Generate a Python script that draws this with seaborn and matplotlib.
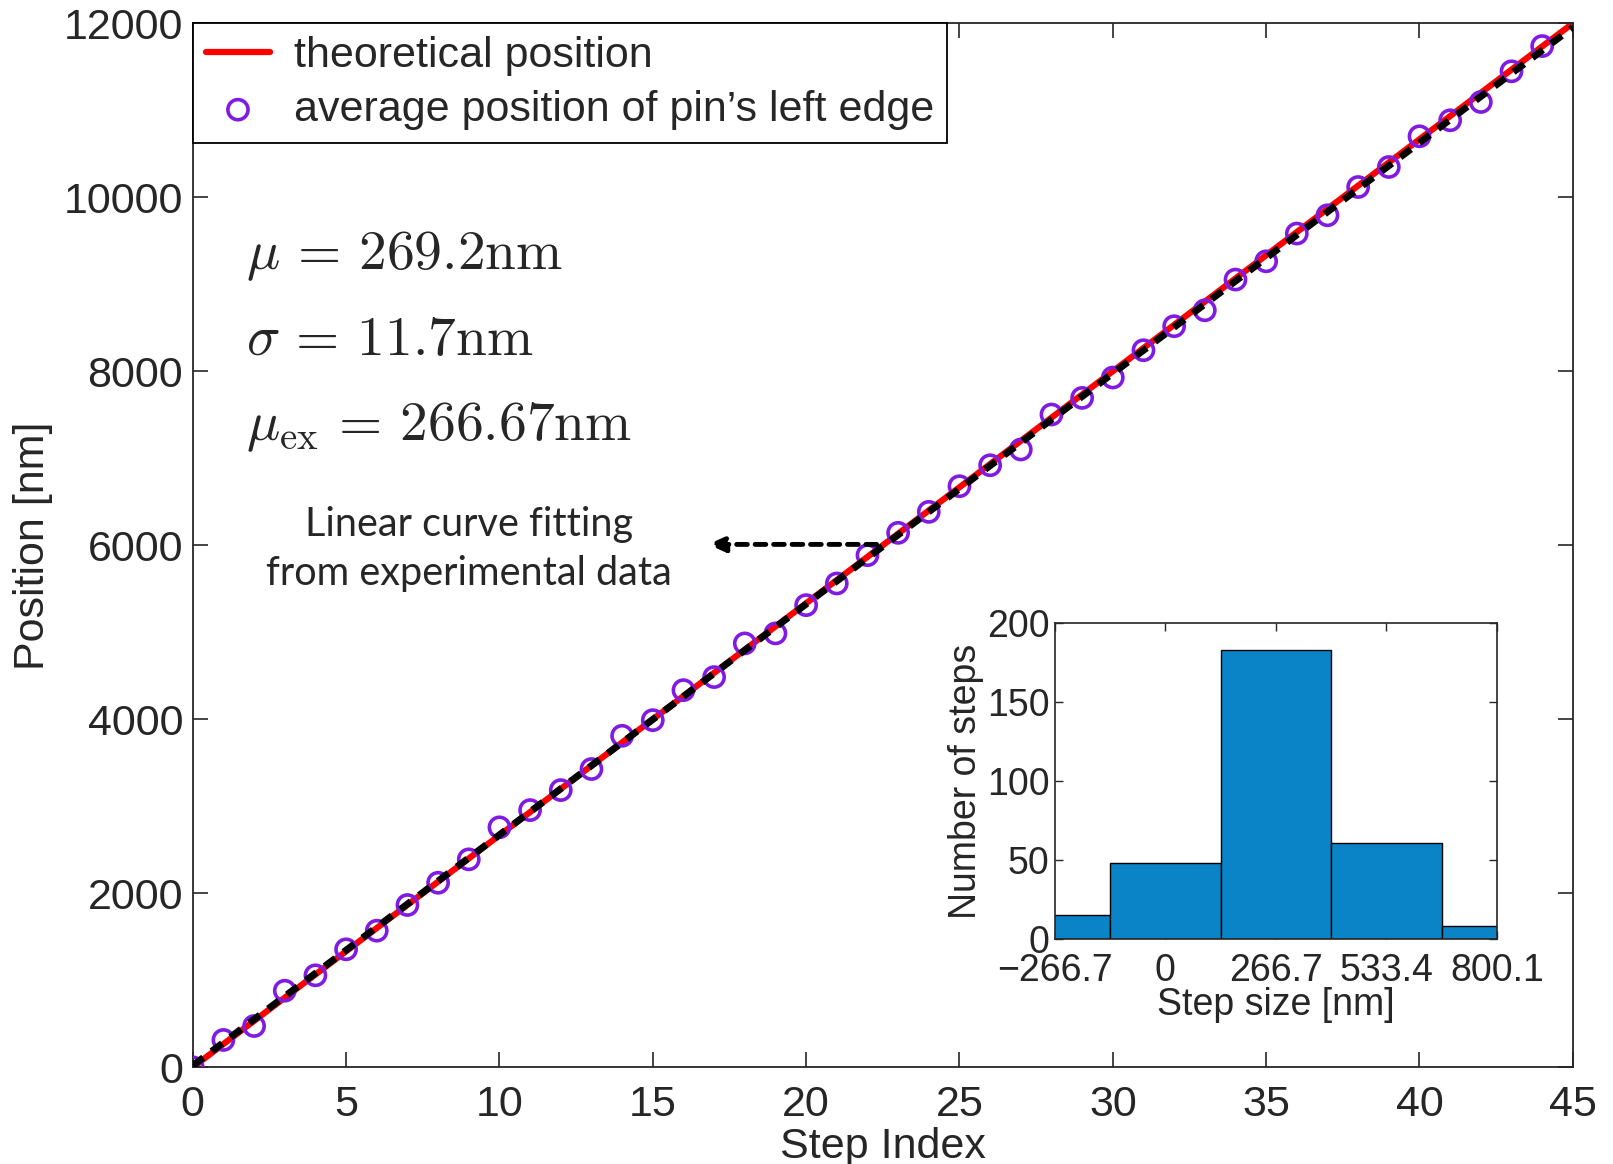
import numpy as np
import pandas as pd
import matplotlib
matplotlib.use("Agg")
import matplotlib.pyplot as plt
import seaborn as sns

# ---------------- data ----------------
step_index = list(range(45))
avg_position = [0, 314, 474, 880, 1057, 1356, 1570, 1865, 2121, 2390,
                2758, 2956, 3186, 3428, 3810, 3990, 4335, 4485, 4872, 4987,
                5312, 5561, 5886, 6143, 6384, 6679, 6920, 7101, 7503, 7694,
                7928, 8242, 8518, 8701, 9054, 9264, 9583, 9793, 10118, 10348,
                10701, 10885, 11095, 11448, 11738]
theory_steps = [0, 45]
step_size_nm = 266.67

hist_centers = [-266.7, 0, 266.7, 533.4, 800.1]
hist_counts = [15, 48, 183, 61, 8]
hist_ticklabels = ["\u2212266.7", "0", "266.7", "533.4", "800.1"]

stats_lines = [r"$\mu\,=\,269.2\mathrm{nm}$",
               r"$\sigma\,=\,11.7\mathrm{nm}$",
               r"$\mu_{\mathrm{ex}}\,=\,266.67\mathrm{nm}$"]

# ---------------- style ----------------
sns.set_style("ticks")
plt.rcParams['font.family'] = ['Liberation Sans', 'DejaVu Sans']
plt.rcParams['mathtext.fontset'] = 'cm'

fig = plt.figure(figsize=(16.13, 11.64), dpi=100)
ax = fig.add_axes([0.1195, 0.0831, 0.9751 - 0.1195, 0.980 - 0.0831])

theory_df = pd.DataFrame({"step": theory_steps,
                          "pos": [s * step_size_nm for s in theory_steps]})
data_df = pd.DataFrame({"step": step_index, "pos": avg_position})

sns.lineplot(data=theory_df, x="step", y="pos", color="#ff0000", lw=4.5,
             ax=ax, label="theoretical position", zorder=2)
sns.scatterplot(data=data_df, x="step", y="pos", marker="o", s=210,
                facecolor="none", edgecolor="#7f1be3", linewidth=2.6,
                ax=ax, label="average position of pin\u2019s left edge", zorder=3)

# linear fit from experimental data
slope, intercept = np.polyfit(step_index, avg_position, 1)
fit_x = np.array([0, 45])
fit_df = pd.DataFrame({"step": fit_x, "pos": slope * fit_x + intercept})
sns.lineplot(data=fit_df, x="step", y="pos", color="black", lw=5,
             ax=ax, zorder=4, legend=False)
ax.lines[-1].set_dashes((1.9, 1.5))

ax.set_xlim(0, 45)
ax.set_ylim(0, 12000)
ax.set_xticks(range(0, 46, 5))
ax.set_yticks(range(0, 12001, 2000))
ax.tick_params(direction="in", length=11, width=1.2, labelsize=31,
               top=True, right=True, pad=7)
ax.tick_params(axis="x", pad=13)
for s in ax.spines.values():
    s.set_linewidth(1.3)
    s.set_visible(True)
ax.set_xlabel("Step Index", fontsize=31, labelpad=1)
ax.set_ylabel("Position [nm]", fontsize=31, labelpad=8)

leg = ax.legend(loc="upper left", borderaxespad=0, fontsize=31,
                frameon=True, fancybox=False, edgecolor="black",
                handlelength=1.5, handletextpad=0.55, borderpad=0.3,
                labelspacing=0.32)
leg.get_frame().set_linewidth(1.3)
leg.get_frame().set_alpha(1)

# statistics text
for i, txt in enumerate(stats_lines):
    ax.text(1.75, 9170 - i * 980, txt, fontsize=40, va="baseline",
            ha="left")

ax.text(9.0, 5960, "Linear curve fitting\nfrom experimental data",
        family=["Lato", "DejaVu Sans"], fontsize=28.5, ha="center",
        va="center", linespacing=1.4)
ax.annotate("", xy=(16.8, 6010), xytext=(22.3, 6010),
            arrowprops=dict(arrowstyle="-|>,head_length=1.0,head_width=0.45",
                            color="black", lw=3.5, linestyle=(0, (2.2, 1.6)),
                            shrinkA=0, shrinkB=0))

# ---------------- inset histogram ----------------
ins = fig.add_axes([0.654, 0.1933, 0.928 - 0.654, 0.4648 - 0.1933])
bin_w = hist_centers[1] - hist_centers[0]
edges = [c - bin_w / 2 for c in hist_centers] + [hist_centers[-1] + bin_w / 2]
sns.histplot(x=hist_centers, weights=hist_counts, bins=edges, ax=ins,
             color="#0b84c7", alpha=1, edgecolor="black", linewidth=1.0)
ins.set_xlim(hist_centers[0], hist_centers[-1])
ins.set_ylim(0, 200)
ins.set_xticks(hist_centers)
ins.set_xticklabels(hist_ticklabels)
ins.set_yticks([0, 50, 100, 150, 200])
ins.tick_params(direction="in", length=6, width=1.0, labelsize=27,
                top=True, right=True, pad=4)
ins.tick_params(axis="x", pad=10)
for s in ins.spines.values():
    s.set_linewidth(1.2)
    s.set_visible(True)
ins.set_xlabel("Step size [nm]", fontsize=27, labelpad=-1)
ins.set_ylabel("Number of steps", fontsize=27, labelpad=2)

fig.savefig("out.png", dpi=100)
